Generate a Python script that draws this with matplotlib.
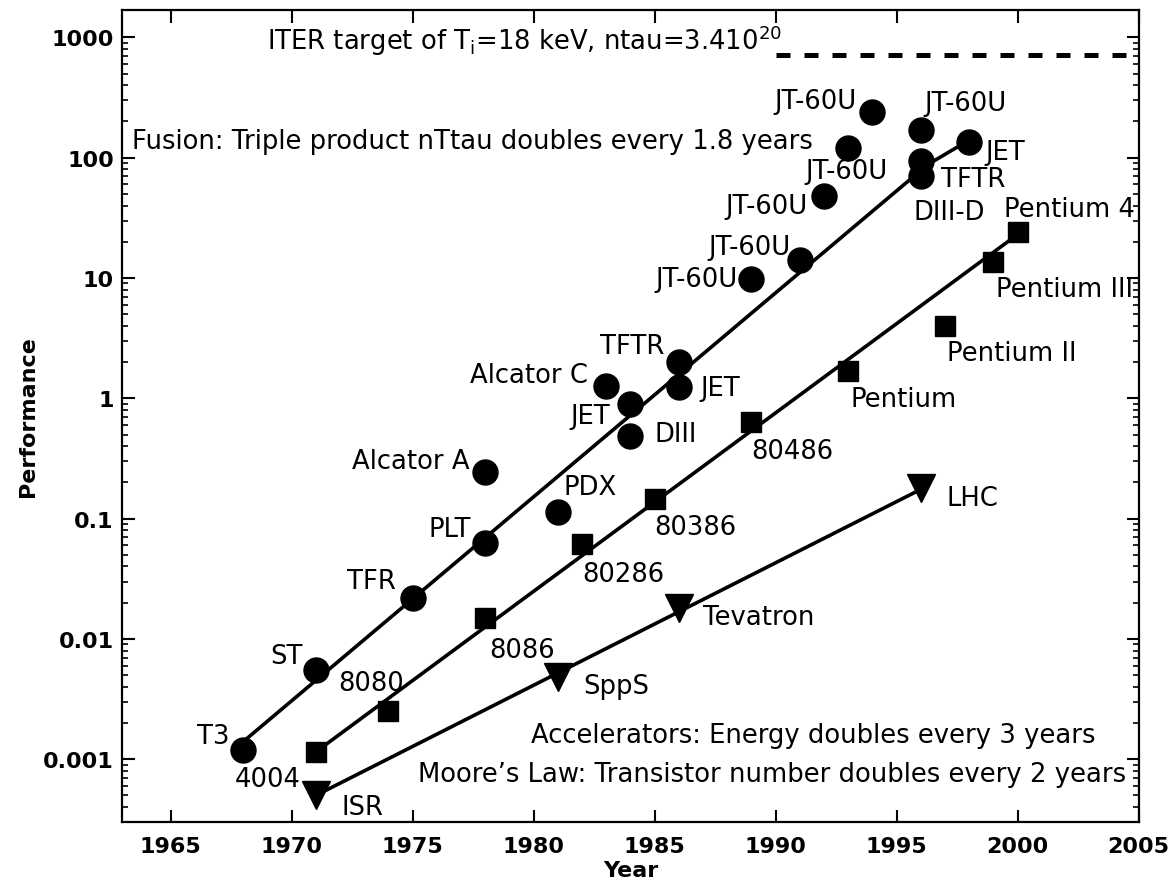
import matplotlib
matplotlib.use('Agg')
import matplotlib.pyplot as plt
from matplotlib.ticker import LogLocator, FixedLocator

plt.rcParams['font.family'] = ['DejaVu Sans']

# fusion experiments (circles)
fusion_names = ['T3', 'ST', 'TFR', 'PLT', 'Alcator A', 'PDX', 'Alcator C', 'JET', 'DIII',
                'TFTR', 'JET', 'JT-60U', 'JT-60U', 'JT-60U', 'JT-60U', 'JT-60U', 'JT-60U',
                'DIII-D', 'TFTR', 'JET']
fusion_years = [1968, 1971, 1975, 1978, 1978, 1981, 1983, 1984, 1984,
                1986, 1986, 1989, 1991, 1992, 1993, 1994, 1996,
                1996, 1996, 1998]
fusion_vals = [0.0012, 0.0055, 0.022, 0.063, 0.245, 0.113, 1.26, 0.9, 0.49,
               2.0, 1.24, 9.8, 14, 48, 120, 240, 170,
               93, 70, 135]

# microprocessors (squares)
chip_names = ['4004', '8080', '8086', '80286', '80386', '80486', 'Pentium',
              'Pentium II', 'Pentium III', 'Pentium 4']
chip_years = [1971, 1974, 1978, 1982, 1985, 1989, 1993, 1997, 1999, 2000]
chip_vals = [0.00115, 0.0025, 0.015, 0.062, 0.145, 0.63, 1.7, 4.0, 13.5, 24]

# accelerators (triangles)
acc_names = ['ISR', 'SppS', 'Tevatron', 'LHC']
acc_years = [1971, 1981, 1986, 1996]
acc_vals = [0.0005, 0.0048, 0.018, 0.178]

# trend lines
fusion_trend_years = [1968, 1996.3, 1998]
fusion_trend_vals = [0.0014, 88, 140]
chip_trend_years = [1971, 2000]
chip_trend_vals = [0.00115, 23]
acc_trend_years = [1971, 1996]
acc_trend_vals = [0.0005, 0.175]
iter_years = [1990, 2005]
iter_vals = [720, 720]

x_ticks = [1965, 1970, 1975, 1980, 1985, 1990, 1995, 2000, 2005]
y_ticks = [0.001, 0.01, 0.1, 1, 10, 100, 1000]
y_ticklabels = ['0.001', '0.01', '0.1', '1', '10', '100', '1000']

# label placement: (dx, dy) in pixels from the marker, horizontal alignment
fusion_offsets = [(-14, 14, 'right'), (-13, 14, 'right'), (-17, 17, 'right'), (-14, 14, 'right'),
                  (-16, 11, 'right'), (6, 25, 'left'), (-18, 11, 'right'), (-20, -12, 'right'),
                  (24, 2, 'left'), (-14, 16, 'right'), (22, -1, 'left'), (-14, 0, 'right'),
                  (-9, 13, 'right'), (-16, -10, 'right'), (-2, -23, 'center'), (-16, 11, 'right'),
                  (4, 27, 'left'), (-7, -51, 'left'), (20, -3, 'left'), (16, -10, 'left')]
chip_offsets = [(-15, -27, 'right'), (-17, 28, 'center'), (4, -32, 'left'), (0, -30, 'left'),
                (0, -28, 'left'), (0, -29, 'left'), (2, -28, 'left'), (2, -27, 'left'),
                (3, -27, 'left'), (-14, 23, 'left')]
acc_offsets = [(26, -12, 'left'), (25, -9, 'left'), (24, -9, 'left'), (26, -10, 'left')]

fig = plt.figure(figsize=(11.75, 8.87), dpi=100)
ax = fig.add_axes([0.104, 0.072, 0.865, 0.916])

lw = 2.6
ax.plot(fusion_trend_years, fusion_trend_vals, color='black', lw=lw, zorder=2)
ax.plot(chip_trend_years, chip_trend_vals, color='black', lw=lw, zorder=2)
ax.plot(acc_trend_years, acc_trend_vals, color='black', lw=lw, zorder=2)
ax.plot(iter_years, iter_vals, color='black', lw=3.6, ls=(0, (2.8, 2.8)), zorder=2)

ax.plot(fusion_years, fusion_vals, 'o', color='black', ms=18, zorder=3)
ax.plot(chip_years, chip_vals, 's', color='black', ms=15, zorder=3)
ax.plot(acc_years, acc_vals, 'v', color='black', ms=20, zorder=3)

fs = 18.6
for names, years, vals, offs in [(fusion_names, fusion_years, fusion_vals, fusion_offsets),
                                 (chip_names, chip_years, chip_vals, chip_offsets),
                                 (acc_names, acc_years, acc_vals, acc_offsets)]:
    for name, yr, v, (dx, dy, ha) in zip(names, years, vals, offs):
        ax.annotate(name, (yr, v), xytext=(dx, dy), textcoords='offset pixels',
                    ha=ha, va='center', fontsize=fs, zorder=4)

ax.text(1969.0, 950, r'ITER target of T$_\mathregular{i}$=18 keV, ntau=3.410$^\mathregular{20}$',
        fontsize=fs, ha='left', va='center')
ax.text(1963.4, 137, 'Fusion: Triple product nTtau doubles every 1.8 years',
        fontsize=fs, ha='left', va='center')
ax.text(2003.2, 0.0016, 'Accelerators: Energy doubles every 3 years',
        fontsize=fs, ha='right', va='center')
ax.text(2004.5, 0.00076, 'Moore\u2019s Law: Transistor number doubles every 2 years',
        fontsize=fs, ha='right', va='center')

ax.set_yscale('log')
ax.set_xlim(1963, 2005)
ax.set_ylim(3e-4, 1.7e3)
ax.xaxis.set_major_locator(FixedLocator(x_ticks))
ax.set_xticklabels([str(t) for t in x_ticks], fontsize=16, fontweight='bold')
ax.set_yticks(y_ticks)
ax.set_yticklabels(y_ticklabels, fontsize=16, fontweight='bold')
ax.yaxis.set_minor_locator(LogLocator(base=10, subs=range(2, 10), numticks=20))
ax.yaxis.set_minor_formatter(plt.NullFormatter())
ax.tick_params(which='major', direction='in', length=9, width=1.5, top=True, right=True)
ax.tick_params(axis='x', which='major', pad=10)
ax.tick_params(axis='y', which='major', pad=6)
ax.tick_params(which='minor', direction='in', length=4.5, width=1.2, top=True, right=True)
for s in ax.spines.values():
    s.set_linewidth(1.6)

ax.set_xlabel('Year', fontsize=16, fontweight='bold', labelpad=3)
ax.set_ylabel('Performance', fontsize=16, fontweight='bold', labelpad=4)

fig.savefig('out.png', dpi=100)
